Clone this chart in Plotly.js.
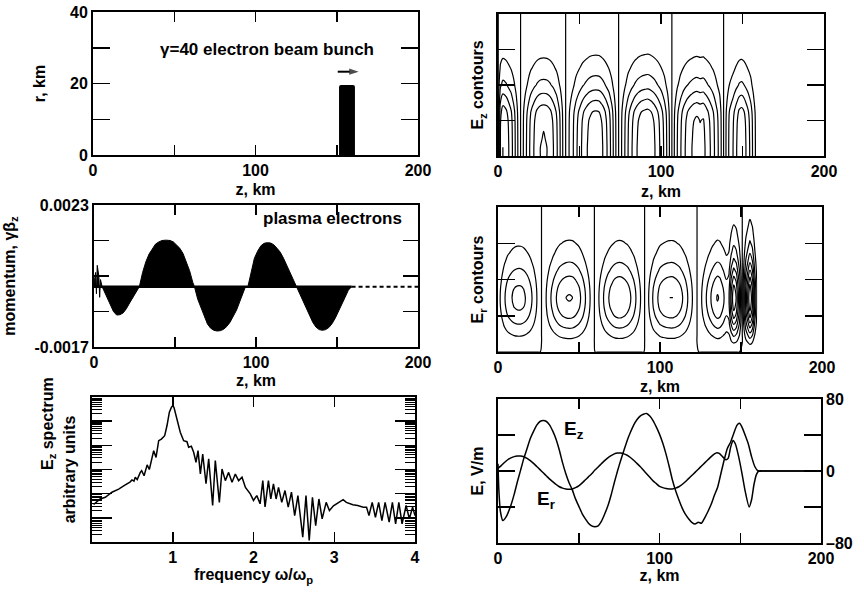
<!DOCTYPE html>
<html><head><meta charset="utf-8">
<script src="https://cdn.plot.ly/plotly-3.0.1.min.js"></script>
<style>html,body{margin:0;padding:0;background:#fff}</style>
</head><body><div id="chart" style="width:864px;height:593px"></div>
<script>
// ---------- DATA ----------
// Panel 1: beam bunch
const beamZ = [156.3];      // centre of bunch, km
const beamWidth = [9.8];    // bunch length, km
const beamR = [19.6];       // bunch radius, km
const arrowZ = [150.6, 163.5]; // direction-of-motion arrow
const arrowR = [23.3, 23.3];

// Panel 3: plasma electron momentum envelope (signed extent)
const momZ = [0,1,1.5,2,3,3.5,4,5,6,8,10,12,14,16,18,20,22,24,26,28,30,32,34,36,38,40,42,44.5,47,49,51,53,55,57,59,61,62,64,66,68,70,72,74,76,78,80,82,84,86,88,90,92,93.5,95,97,99,101,103,105,107,109,111,113,115,117,119,121,123,125,127,129,131,133,135,137,139,141,143,145,147,149,151,153,155,157,159];
const momV = [0.0001,0.0004,-0.0002,0.0006,0.0003,-0.0003,0.0002,0,-0.0001,-0.0003,-0.0005,-0.0007,-0.0008,-0.00079,-0.00074,-0.00062,-0.00046,-0.0003,-0.00013,0,0.0004,0.0007,0.00092,0.00108,0.0012,0.00126,0.0013,0.00131,0.0013,0.00126,0.00118,0.00108,0.00093,0.0007,0.00045,0.00012,0,-0.00035,-0.0006,-0.00085,-0.00105,-0.00117,-0.00123,-0.00125,-0.00124,-0.0012,-0.00112,-0.001,-0.00085,-0.00066,-0.00042,-0.00015,0,0,0.0004,0.0008,0.001,0.00115,0.00122,0.00124,0.00123,0.00118,0.00108,0.00097,0.0008,0.0006,0.00038,0.00015,0,-0.0002,-0.0004,-0.0006,-0.0008,-0.001,-0.00114,-0.00121,-0.00123,-0.00121,-0.00115,-0.00104,-0.00088,-0.0007,-0.0005,-0.0003,-0.0001,0];
const baseZ = [0, 159];     // electrons on the axis line inside the wake
const baseV = [0, 0];
const restZ = [159, 200];   // undisturbed electrons ahead of the bunch
const restV = [0, 0];

// Panel 5: Ez spectrum (log10 of arbitrary units)
const specF = [0.02,0.05,0.08,0.1,0.165,0.247,0.33,0.412,0.47,0.495,0.52,0.536,0.56,0.598,0.615,0.645,0.683,0.71,0.744,0.764,0.793,0.826,0.859,0.9,0.929,0.958,0.983,0.999,1.015,1.052,1.093,1.135,1.176,1.197,1.23,1.259,1.288,1.313,1.342,1.371,1.412,1.445,1.494,1.527,1.577,1.61,1.651,1.692,1.734,1.775,1.816,1.858,1.9,1.96,2.0,2.041,2.082,2.115,2.143,2.185,2.214,2.247,2.28,2.31,2.35,2.39,2.43,2.47,2.51,2.55,2.61,2.65,2.69,2.73,2.77,2.81,2.85,2.9,2.94,2.99,3.05,3.11,3.15,3.19,3.23,3.29,3.36,3.4,3.43,3.47,3.51,3.55,3.59,3.63,3.68,3.72,3.76,3.8,3.84,3.89,3.93,3.97,4.0];
const specLog = [1.55,1.62,1.72,1.78,1.85,2.06,2.19,2.36,2.48,2.57,2.52,2.68,2.58,2.88,2.95,2.74,3.19,3.0,3.43,3.78,3.5,4.19,4.26,4.4,4.82,5.37,5.57,5.64,5.57,5.02,4.54,4.19,4.15,3.92,3.96,3.71,3.3,3.78,2.82,3.64,2.41,3.44,1.51,3.37,1.64,3.02,2.54,2.88,2.47,2.81,2.54,2.68,2.26,1.99,1.72,1.92,1.58,2.54,1.45,2.54,1.78,2.4,1.78,2.26,1.64,2.13,1.44,2.06,1.09,1.92,0.2,1.92,0.06,1.85,0.68,1.78,0.96,1.64,1.3,1.5,1.64,1.75,1.64,1.58,1.54,1.51,1.44,1.44,1.09,1.64,1.02,1.64,0.88,1.64,0.82,1.64,0.75,1.64,0.75,1.51,0.96,1.44,1.09];

// Panel 6: fields on the line, V/m
const ezZ = [0,0.5,1.5,3,5,8,10,12,14,16,18,20,22,24,26,28,30,32,34,36,38,40,42,44,46,48,50,52,54,56,58,60,62,64,66,68,70,72,74,76,78,80,82,84,86,88,90,92,94,96,98,100,102,104,106,108,110,112,114,116,118,120,122,124,126,128,130,132,134,136,138,140,142,144,146,148,149.5,151,153,155,157,159,161,165,200];
const ezV = [8,-20,-45,-55,-51,-38,-26,-12,1,14,25,36,44,51,55,56,55,51,44,35,23,9,-3,-13,-21,-31,-39,-47,-53,-58,-61,-62,-61,-56,-48,-39,-27,-13,0,12,23,34,43,51,57,61,63,64,61,56,49,41,31,19,5,-10,-22,-32,-41,-48,-53,-57,-59,-57,-58,-52,-45,-37,-27,-18,-3,12,25,32,42,51,53,49,40,30,16,5,0,0,0];
const erZ = [0,2,4,6,8,10,12,14,16,18,20,22,24,26,28,30,32,34,36,38,40,42,44,46,48,50,52,54,56,58,60,62,64,66,68,70,72,74,76,78,80,82,84,86,88,90,92,94,96,98,100,102,104,106,108,110,112,114,116,118,120,122,124,126,128,130,132,134,135.5,137,139,141,142.5,144,145.5,147,149,151,153,155.5,157,158.5,160,161.5,165,200];
const erV = [3,6,9.5,12.5,14.5,16,16.7,16.7,15.8,14,11.5,8.5,5,1.5,-2,-5.5,-9,-12,-15,-17.5,-19,-20,-20.4,-20,-18.5,-16.5,-13.5,-10,-6.5,-3,1,4.5,8,11.5,14.5,17,19,20,20,19,17.5,15,12,8.5,5,1,-3,-7,-11,-14,-17,-18.5,-19.5,-20,-20,-19,-17.5,-15,-12,-8.5,-5,-1.5,2,5.5,9,12.5,16,19,20.4,19.5,16,12.5,14,26,34,30,16,-2,-22,-40,-32,-15,-4,0,0,0];

// Panels 2 & 4: radial profiles used to build the contour tables
const rGrid = [0,2.5,5,7.5,10,12.5,15,17.5,20,22.5,25,27.5,30,32.5,35,37.5,40];
const ezRadial = [1,1,0.99,0.98,0.96,0.9,0.75,0.6,0.45,0.36,0.27,0.2,0.14,0.1,0.07,0.05,0.04];
const erRadial = [0,0.15,0.35,0.58,0.8,0.95,1.0,0.94,0.8,0.63,0.48,0.36,0.27,0.2,0.15,0.11,0.08];

// ---------- TABLES (wake region only: the field is zero ahead of the bunch) ----------
const ezN = ezZ.filter(z => z <= 159).length;
const erN = erZ.filter(z => z <= 160).length;
const ezGrid = rGrid.map((r, i) => ezV.slice(0, ezN).map(v => v * ezRadial[i]));
const erGrid = rGrid.map((r, i) => erV.slice(0, erN).map(v => v * erRadial[i]));
const specY = specLog.map(l => Math.pow(10, l));
const decades = [1, 10, 100, 1e3, 1e4, 1e5, 1e6];
const minorVals = [];
decades.slice(0, 6).forEach(d => { for (let k = 2; k <= 9; k++) minorVals.push(k * d); });

// ---------- LAYOUT HELPERS ----------
const FONT = 'Liberation Sans, Arial, Helvetica, sans-serif';
const W = 864, H = 593;
const dx = (a, b) => [a / W, b / W];
const dy = (top, bot) => [1 - bot / H, 1 - top / H];
const tf = {family: FONT, size: 16, color: '#000', weight: 'bold'};
const tf17 = {family: FONT, size: 17, color: '#000', weight: 'bold'};
function ax(domain, o) {
  return Object.assign({
    domain: domain, showline: true, linecolor: '#000', linewidth: 2, mirror: 'allticks',
    ticks: 'inside', tickcolor: '#000', tickwidth: 1.5, showgrid: false, zeroline: false,
    tickfont: tf, fixedrange: true
  }, o);
}
function ttl(text, standoff) { return {text: text, font: tf, standoff: standoff}; }
function minorT(vals, len) { return {tickmode: 'array', tickvals: vals, ticks: 'inside', ticklen: len, tickcolor: '#000', tickwidth: 1.5}; }
const zTicks = {tickmode: 'array', tickvals: [0, 100, 200], ticktext: ['0', '100', '200'], ticklen: 10, minor: minorT([50, 150], 10)};

const traces = [
  {type: 'bar', x: beamZ, y: beamR, width: beamWidth, marker: {color: '#000', cornerradius: 2}, xaxis: 'x', yaxis: 'y', hoverinfo: 'skip'},
  {type: 'scatter', mode: 'lines+markers', x: arrowZ, y: arrowR, line: {color: '#000', width: 2},
   marker: {symbol: 'arrow', angleref: 'previous', size: [0, 10], color: '#000', line: {width: 0}}, xaxis: 'x', yaxis: 'y', hoverinfo: 'skip'},
  {type: 'contour', x: ezZ.slice(0, ezN), y: rGrid, z: ezGrid, xaxis: 'x2', yaxis: 'y2', showscale: false, hoverinfo: 'skip',
   contours: {coloring: 'none', start: -55, end: 55, size: 11}, line: {color: '#000', width: 1.2, smoothing: 1}},
  {type: 'scatter', mode: 'lines', x: momZ, y: momV, fill: 'tozeroy', fillcolor: '#000', line: {color: '#000', width: 1}, xaxis: 'x3', yaxis: 'y3', hoverinfo: 'skip'},
  {type: 'scatter', mode: 'lines', x: baseZ, y: baseV, line: {color: '#000', width: 2.5}, xaxis: 'x3', yaxis: 'y3', hoverinfo: 'skip'},
  {type: 'scatter', mode: 'lines', x: restZ, y: restV, line: {color: '#000', width: 2, dash: '4px,3px'}, xaxis: 'x3', yaxis: 'y3', hoverinfo: 'skip'},
  {type: 'contour', x: erZ.slice(0, erN), y: rGrid, z: erGrid, xaxis: 'x4', yaxis: 'y4', showscale: false, hoverinfo: 'skip',
   contours: {coloring: 'none', start: -40, end: 40, size: 5}, line: {color: '#000', width: 1.2, smoothing: 1}},
  {type: 'scatter', mode: 'lines', x: specF, y: specY, line: {color: '#000', width: 1.5}, xaxis: 'x5', yaxis: 'y5', hoverinfo: 'skip'},
  {type: 'scatter', mode: 'lines', x: ezZ, y: ezV, line: {color: '#000', width: 1.5, shape: 'spline', smoothing: 0.6}, xaxis: 'x6', yaxis: 'y6', hoverinfo: 'skip'},
  {type: 'scatter', mode: 'lines', x: erZ, y: erV, line: {color: '#000', width: 1.5, shape: 'spline', smoothing: 0.6}, xaxis: 'x6', yaxis: 'y7', hoverinfo: 'skip'}
];

const layout = {
  width: W, height: H, margin: {l: 0, r: 0, t: 0, b: 0}, showlegend: false,
  paper_bgcolor: '#fff', plot_bgcolor: '#fff', font: {family: FONT, color: '#000'},
  xaxis: ax(dx(93, 418), Object.assign({anchor: 'y', range: [0, 200], title: ttl('z, km', 6)}, zTicks)),
  yaxis: ax(dy(12, 155), {anchor: 'x', range: [0, 40], tickmode: 'array', tickvals: [0, 20, 40], ticktext: ['0', '20', '40'], ticklen: 17,
    minor: minorT([10, 30], 17), title: ttl('r, km', 20)}),
  xaxis2: ax(dx(498, 824), Object.assign({anchor: 'y2', range: [0, 200], title: ttl('z, km', 7)}, zTicks)),
  yaxis2: ax(dy(14, 156), {anchor: 'x2', range: [0, 40], tickmode: 'array', tickvals: [10, 20, 30], ticklen: 17,
    showticklabels: false, title: ttl('E<sub>z</sub> contours', 8)}),
  xaxis3: ax(dx(94, 418), Object.assign({anchor: 'y3', range: [0, 200], title: ttl('z, km', 5)}, zTicks)),
  yaxis3: ax(dy(205, 347), {anchor: 'x3', range: [-0.0017, 0.0023], tickmode: 'array',
    tickvals: [-0.0017, 0.0023], ticktext: ['-0.0017', '0.0023'], ticklen: 15,
    minor: minorT([-0.0007, 0.0003, 0.0013], 15), title: ttl('momentum, γβ<sub>z</sub>', 15)}),
  xaxis4: ax(dx(498, 822), Object.assign({anchor: 'y4', range: [0, 200], title: ttl('z, km', 6)}, zTicks)),
  yaxis4: ax(dy(207, 352), {anchor: 'x4', range: [0, 40], tickmode: 'array', tickvals: [10, 20, 30], ticklen: 17,
    showticklabels: false, title: ttl('E<sub>r</sub> contours', 8)}),
  xaxis5: ax(dx(92, 415), {anchor: 'y5', range: [0, 4], tickmode: 'array', tickvals: [1, 2, 3, 4], ticktext: ['1', '2', '3', '4'], ticklen: 10,
    title: ttl('frequency ω/ω<sub>p</sub>', 2)}),
  yaxis5: ax(dy(397, 542), {anchor: 'x5', type: 'log', range: [0, 6], tickmode: 'array', tickvals: decades, ticklen: 20,
    showticklabels: false, title: ttl('arbitrary units', 10),
    minor: {tickmode: 'array', tickvals: minorVals, ticks: 'inside', ticklen: 10, tickcolor: '#000', tickwidth: 1}}),
  xaxis6: ax(dx(498, 821), Object.assign({anchor: 'y6', range: [0, 200], title: ttl('z, km', 3)}, zTicks)),
  yaxis6: ax(dy(399, 543), {anchor: 'x6', range: [-80, 80], tickmode: 'array', tickvals: [-80, -40, 0, 40, 80], ticklen: 17,
    showticklabels: false, title: ttl('E, V/m', 8)}),
  yaxis7: {overlaying: 'y6', side: 'right', anchor: 'x6', range: [-80, 80], tickmode: 'array', tickvals: [-80, 0, 80],
    ticktext: ['–80', '0', '80'], ticks: '', showline: false, showgrid: false, zeroline: false, tickfont: tf,
    ticklabelstandoff: 4, fixedrange: true},
  annotations: [
    {xref: 'x', yref: 'y', x: 107, y: 29.4, text: 'γ=40 electron beam bunch', showarrow: false, font: tf17},
    {xref: 'x3', yref: 'y3', x: 147.5, y: 0.00193, text: 'plasma electrons', showarrow: false, font: tf17},
    {xref: 'paper', yref: 'paper', x: 37 / W, y: 1 - 472 / H, text: 'E<sub>z</sub> spectrum', textangle: -90, showarrow: false, font: tf},
    {xref: 'x6', yref: 'y6', x: 47, y: 45.5, text: 'E<sub>z</sub>', showarrow: false, font: {family: FONT, size: 19, color: '#000', weight: 'bold'}},
    {xref: 'x6', yref: 'y6', x: 29.7, y: -32, text: 'E<sub>r</sub>', showarrow: false, font: {family: FONT, size: 19, color: '#000', weight: 'bold'}}
  ]
};

Plotly.newPlot('chart', traces, layout, {staticPlot: true, displayModeBar: false});
</script></body></html>
